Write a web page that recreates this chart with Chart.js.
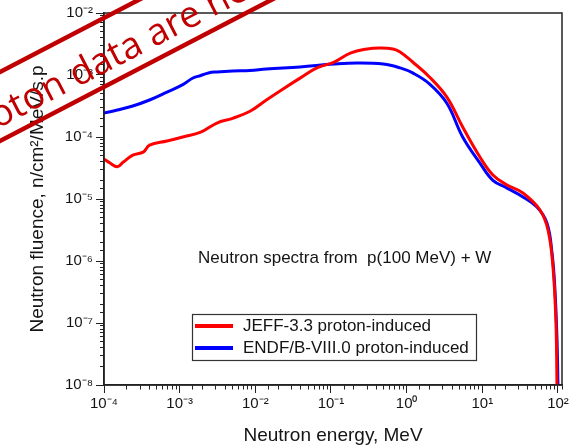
<!DOCTYPE html>
<html>
<head>
<meta charset="utf-8">
<script src="https://cdn.jsdelivr.net/npm/chart.js@4.4.1/dist/chart.umd.min.js"></script>
<style>
  html, body { margin: 0; padding: 0; background: #fff; }
  #wrap { width: 579px; height: 445px; }
</style>
</head>
<body>
<div id="wrap"><canvas id="myChart" width="579" height="445"></canvas></div>
<script>
// series (energy in MeV, fluence in n/cm2/MeV/s.p)
const seriesNames = ['JEFF-3.3 proton-induced', 'ENDF/B-VIII.0 proton-induced'];

const jeffEnergy = [1.0e-4, 1.2e-4, 1.5e-4, 1.8e-4, 2.4e-4, 3.3e-4, 4.0e-4, 6.8e-4, 1.1e-3, 1.9e-3,
  3.1e-3, 5.0e-3, 8.5e-3, 0.014, 0.023, 0.039, 0.065, 0.11, 0.18, 0.30,
  0.44, 0.66, 0.82, 1.2, 2.0, 3.4, 5.5, 9.3, 13.8, 21.2,
  34.4, 57.8, 73.8, 85.9, 94, 97];
const jeffFluence = [4.4e-5, 3.8e-5, 3.3e-5, 3.95e-5, 5.1e-5, 5.7e-5, 7.4e-5, 8.6e-5, 1.0e-4, 1.2e-4,
  1.68e-4, 2.0e-4, 2.6e-4, 3.95e-4, 5.9e-4, 8.9e-4, 1.3e-3, 1.62e-3, 2.26e-3, 2.63e-3,
  2.72e-3, 2.63e-3, 2.35e-3, 1.62e-3, 9.3e-4, 4.4e-4, 1.45e-4, 4.75e-5, 2.44e-5, 1.68e-5,
  1.25e-5, 6.65e-6, 3.16e-6, 8.0e-7, 1.0e-7, 1.0e-8];

const endfEnergy = [1.0e-4, 1.5e-4, 2.4e-4, 4.0e-4, 6.8e-4, 1.1e-3, 1.5e-3, 1.9e-3, 2.4e-3, 3.1e-3,
  5.0e-3, 8.5e-3, 0.014, 0.039, 0.11, 0.22, 0.49, 0.82, 1.2, 2.0,
  3.4, 5.5, 9.3, 13.8, 21.2, 34.4, 52.7, 71.4, 83.4, 91.2,
  97.1, 100];
const endfFluence = [2.44e-4, 2.72e-4, 3.16e-4, 3.95e-4, 5.3e-4, 7.0e-4, 8.95e-4, 9.8e-4, 1.08e-3, 1.12e-3,
  1.16e-3, 1.18e-3, 1.25e-3, 1.35e-3, 1.5e-3, 1.56e-3, 1.5e-3, 1.3e-3, 1.08e-3, 7.2e-4,
  3.5e-4, 1.0e-4, 3.8e-5, 2.0e-5, 1.5e-5, 1.08e-5, 7.4e-6, 4.1e-6, 1.35e-6, 3.4e-7,
  5.3e-8, 1.0e-8];

const xTickLabels = ['10⁻⁴', '10⁻³', '10⁻²', '10⁻¹', '10⁰', '10¹', '10²'];   // 1e-4 .. 1e2
const yTickLabels = ['10⁻⁸', '10⁻⁷', '10⁻⁶', '10⁻⁵', '10⁻⁴', '10⁻³', '10⁻²']; // 1e-8 .. 1e-2

const noteText = 'Neutron spectra from  p(100 MeV) + W';
const stampText = 'proton data are new';

const FONT = '"Liberation Sans", Arial, sans-serif';
const INK = '#141414';

const toPoints = (xs, ys) => xs.map((x, i) => ({x: x, y: ys[i]}));
const decade = v => {
  const e = Math.log10(v);
  return Math.abs(e - Math.round(e)) < 1e-6 ? Math.round(e) : null;
};
const minorDashX = c => (c.tick && decade(c.tick.value) !== null) ? [] : [4, 100];
const minorDashY = c => (c.tick && decade(c.tick.value) !== null) ? [] : [0, 4, 4, 100];

const decor = {
  id: 'decor',
  afterDatasetsDraw(chart) {
    const {ctx, chartArea: a} = chart;
    ctx.save();
    // box round the plot
    ctx.strokeStyle = '#222';
    ctx.lineWidth = 1.5;
    ctx.strokeRect(a.left, a.top, a.right - a.left, a.bottom - a.top);

    // note
    ctx.fillStyle = INK;
    ctx.font = '17px ' + FONT;
    ctx.textBaseline = 'middle';
    ctx.fillText(noteText, 198, 258);

    // legend inside the plot
    ctx.fillStyle = '#fff';
    ctx.fillRect(192, 314, 284, 46);
    ctx.strokeStyle = '#333';
    ctx.lineWidth = 1.2;
    ctx.strokeRect(192.5, 314.5, 284, 46);
    chart.data.datasets.forEach((ds, i) => {
      const y = 326 + i * 22;
      ctx.strokeStyle = ds.borderColor;
      ctx.lineWidth = 4;
      ctx.beginPath();
      ctx.moveTo(195, y);
      ctx.lineTo(233, y);
      ctx.stroke();
      ctx.fillStyle = INK;
      ctx.fillText(ds.label, 243, y);
    });
    ctx.restore();
  },
  afterDraw(chart) {
    const ctx = chart.ctx;
    const th = Math.atan(0.52);
    ctx.save();
    ctx.translate(0, 141);
    ctx.rotate(-th);
    ctx.strokeStyle = '#c00000';
    ctx.lineWidth = 4.5;
    const gap = 69 * Math.cos(th);
    ctx.beginPath();
    ctx.moveTo(-60, 0); ctx.lineTo(420, 0);
    ctx.moveTo(-60, -gap); ctx.lineTo(420, -gap);
    ctx.stroke();
    ctx.fillStyle = '#c00000';
    ctx.font = '37px "Open Sans", sans-serif';
    ctx.textBaseline = 'alphabetic';
    const lead = ctx.measureText('pr').width;
    ctx.fillText(stampText, 3 - lead, -12);
    ctx.restore();
  }
};

const ctx = document.getElementById('myChart');

new Chart(ctx, {
  type: 'line',
  data: {
    datasets: [{
      label: seriesNames[0],
      data: toPoints(jeffEnergy, jeffFluence),
      borderColor: '#ff0000',
      borderWidth: 3,
      pointRadius: 0,
      tension: 0.4,
      fill: false
    }, {
      label: seriesNames[1],
      data: toPoints(endfEnergy, endfFluence),
      borderColor: '#0000ff',
      borderWidth: 3,
      pointRadius: 0,
      tension: 0.4,
      fill: false
    }]
  },
  options: {
    responsive: false,
    animation: false,
    devicePixelRatio: 1,
    layout: { padding: { left: 0, top: 13, right: 17, bottom: 0 } },
    plugins: {
      legend: { display: false },
      tooltip: { enabled: false }
    },
    scales: {
      x: {
        type: 'logarithmic',
        position: 'bottom',
        min: 1e-4,
        max: 113,
        border: { color: '#222', width: 1.5 },
        grid: {
          drawOnChartArea: false,
          tickLength: 8,
          tickColor: '#222',
          tickWidth: 1,
          tickBorderDash: minorDashX
        },
        ticks: {
          autoSkip: false,
          maxRotation: 0,
          minRotation: 0,
          padding: 2,
          color: INK,
          font: { family: FONT, size: 15 },
          callback: v => { const e = decade(v); return e === null ? '' : (xTickLabels[e + 4] || ''); }
        },
        title: {
          display: true,
          text: 'Neutron energy, MeV',
          color: INK,
          font: { family: FONT, size: 19, lineHeight: 1 },
          padding: { top: 0, bottom: 0 }
        },
        afterFit: s => { s.height = 60; }
      },
      y: {
        type: 'logarithmic',
        position: 'left',
        min: 1e-8,
        max: 1e-2,
        border: { color: '#222', width: 1.5 },
        grid: {
          drawOnChartArea: false,
          tickLength: 8,
          tickColor: '#222',
          tickWidth: 1,
          tickBorderDash: minorDashY
        },
        ticks: {
          autoSkip: false,
          padding: 3,
          color: INK,
          font: { family: FONT, size: 15 },
          callback: v => { const e = decade(v); return e === null ? '' : (yTickLabels[e + 8] || ''); }
        },
        title: {
          display: true,
          text: 'Neutron fluence, n/cm²/MeV/s.p',
          color: INK,
          font: { family: FONT, size: 19, lineHeight: 1 },
          padding: { top: 28, bottom: 0 }
        },
        afterFit: s => { s.width = 104; }
      }
    }
  },
  plugins: [decor]
});
</script>
</body>
</html>
